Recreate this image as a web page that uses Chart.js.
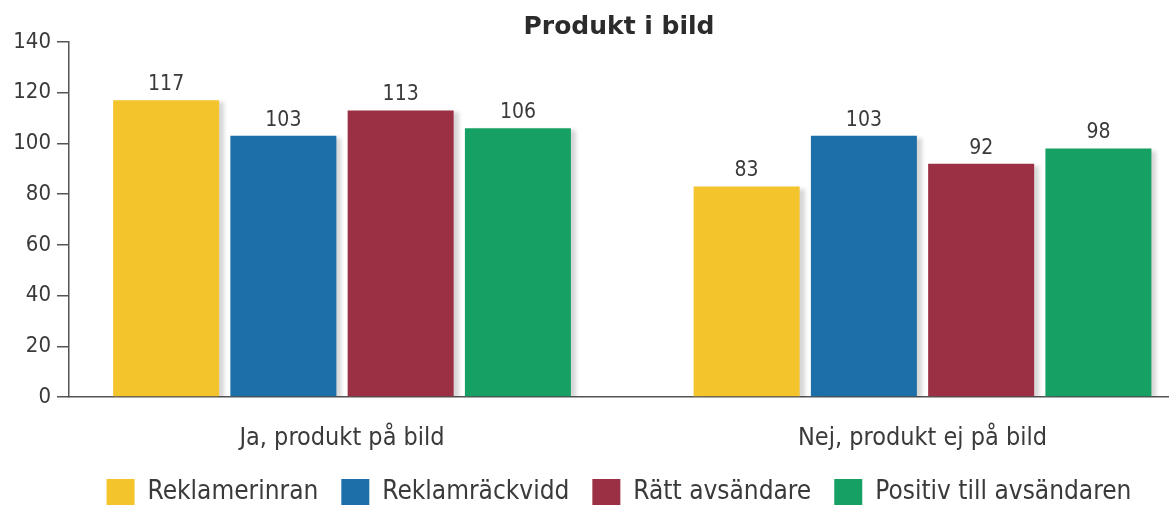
<!DOCTYPE html>
<html lang="sv">
<head>
<meta charset="utf-8">
<title>Produkt i bild</title>
<script src="https://cdn.jsdelivr.net/npm/chart.js@4/dist/chart.umd.min.js"></script>
<style>
  html, body { margin: 0; padding: 0; background: #fff; }
  #wrap { width: 1169px; height: 510px; position: relative; }
</style>
</head>
<body>
<div id="wrap"><canvas id="chart"></canvas></div>
<script>
// Grupper (x-position 0 och 1 på den linjära axeln)
const groups = ['Ja, produkt på bild', 'Nej, produkt ej på bild'];
const seriesNames = ['Reklamerinran', 'Reklamräckvidd', 'Rätt avsändare', 'Positiv till avsändaren'];
const seriesColors = ['#F4C42C', '#1D6FAA', '#9B3045', '#17A063'];

const reklamerinran = [117, 83];
const reklamrackvidd = [103, 103];
const rattAvsandare = [113, 92];
const positivAvsandare = [106, 98];

const yTicks = [0, 20, 40, 60, 80, 100, 120, 140];

const FONT = "'DejaVu Sans Condensed', 'DejaVu Sans', sans-serif";
const textCol = '#3a3a3a';
const axisCol = '#555';

const allValues = [reklamerinran, reklamrackvidd, rattAvsandare, positivAvsandare];

// Värdeetiketter ovanför staplarna
const valueLabels = {
  id: 'valueLabels',
  afterDatasetsDraw(chart) {
    const ctx = chart.ctx;
    ctx.save();
    ctx.font = '21px ' + FONT;
    ctx.fillStyle = textCol;
    ctx.textAlign = 'center';
    ctx.textBaseline = 'bottom';
    chart.data.datasets.forEach((ds, i) => {
      chart.getDatasetMeta(i).data.forEach((bar, j) => {
        ctx.fillText(String(ds.data[j].y), bar.x, bar.y - 5);
      });
    });
    ctx.restore();
  }
};

// Svag skugga till höger om staplarna
const barShadow = {
  id: 'barShadow',
  beforeDatasetsDraw(chart) {
    const ctx = chart.ctx;
    ctx.save();
    ctx.shadowColor = 'rgba(0,0,0,0.16)';
    ctx.shadowBlur = 4;
    ctx.shadowOffsetX = 5;
    ctx.shadowOffsetY = 2;
  },
  afterDatasetsDraw(chart) {
    chart.ctx.restore();
  }
};

const datasets = seriesNames.map((name, i) => ({
  label: name,
  data: allValues[i].map((v, g) => ({ x: g, y: v })),
  backgroundColor: seriesColors[i],
  borderWidth: 0,
  categoryPercentage: 0.808,
  barPercentage: 0.904
}));

new Chart(document.getElementById('chart'), {
  type: 'bar',
  data: { datasets: datasets },
  plugins: [barShadow, valueLabels],
  options: {
    responsive: true,
    maintainAspectRatio: false,
    animation: false,
    layout: { padding: { left: 0, right: 0, top: 0, bottom: 0 } },
    plugins: {
      title: {
        display: true,
        text: 'Produkt i bild',
        fullSize: false,
        color: '#2b2b2b',
        font: { family: "'DejaVu Sans', sans-serif", size: 25, weight: 'bold' },
        padding: { top: 12, bottom: 0 }
      },
      legend: {
        position: 'bottom',
        fullSize: false,
        maxHeight: 54,
        labels: {
          color: textCol,
          font: { family: FONT, size: 26 },
          boxWidth: 28,
          boxHeight: 26,
          padding: 23
        }
      },
      tooltip: { enabled: false }
    },
    scales: {
      x: {
        type: 'linear',
        min: -0.4703,
        max: 1.4246,
        offset: false,
        grid: { display: false },
        border: { display: true, color: axisCol, width: 1.5 },
        afterBuildTicks: (axis) => { axis.ticks = groups.map((g, i) => ({ value: i })); },
        afterFit: (axis) => { axis.height = 59; },
        ticks: {
          color: textCol,
          font: { family: FONT, size: 25 },
          padding: 18,
          maxRotation: 0,
          callback: (v) => groups[v]
        }
      },
      y: {
        min: 0,
        max: 140,
        afterBuildTicks: (axis) => { axis.ticks = yTicks.map(v => ({ value: v })); },
        afterFit: (axis) => { axis.width = 69; },
        grid: { drawOnChartArea: false, drawTicks: true, tickLength: 12, color: axisCol, lineWidth: 1.5 },
        border: { display: true, color: axisCol, width: 1.5 },
        ticks: {
          color: textCol,
          font: { family: FONT, size: 22 },
          padding: 6
        }
      }
    }
  }
});
</script>
</body>
</html>
